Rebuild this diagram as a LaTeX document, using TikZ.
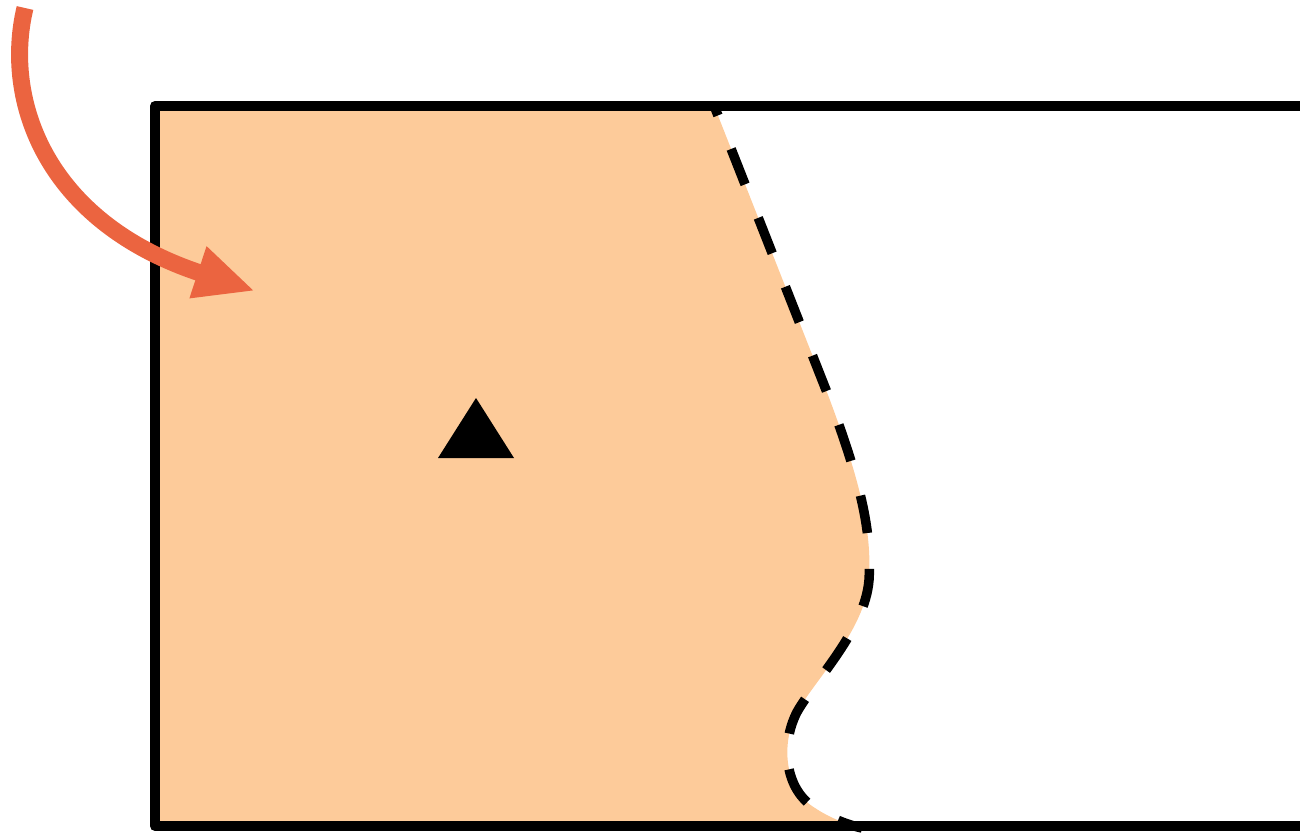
\documentclass[tikz,border=0pt]{standalone}
\usepackage{xcolor}
\usepackage{tikz}
\usetikzlibrary{arrows.meta,calc}
\definecolor{zona}{HTML}{FDCB9A}
\definecolor{freccia}{HTML}{EB6440}

\begin{document}
\begin{tikzpicture}[x=0.01cm,y=-0.01cm,line join=miter]
  \useasboundingbox (0,0) rectangle (1300,833);
  % regione riempita
  \fill[zona] (155,108)--(715,108)--(828,395)
    .. controls (860,480) and (872,530) .. (869,580)
    .. controls (865,630) and (815,680) .. (797,712)
    .. controls (780,745) and (785,790) .. (815,808)
    .. controls (830,818) and (848,825) .. (862,828)
    --(155,828)--cycle;
  % fronte tratteggiato
  \draw[black,line width=0.095cm,dash pattern=on 0.38cm off 0.36cm,dash phase=0.3cm]
    (715,108)--(828,395)
    .. controls (860,480) and (872,530) .. (869,580)
    .. controls (865,630) and (815,680) .. (797,712)
    .. controls (780,745) and (785,790) .. (815,808)
    .. controls (830,818) and (848,825) .. (862,828);
  % contenitore
  \draw[black,line width=0.1cm,line join=round] (1310,106)--(155,106)--(155,826)--(1310,826);
  \draw[black,line width=0.1cm] (1305,106)--(1305,826);
  % simbolo
  \fill[black] (476,398)--(514,458)--(438,458)--cycle;
  % freccia d'ingresso
  \coordinate (inizio) at (25,8);
  \coordinate (punta) at (255,291);
  \draw[freccia,line width=0.17cm,-{Triangle[length=0.6cm,width=0.5cm]}]
    (inizio) .. controls (3,100) and (45,222) .. (punta);
\end{tikzpicture}
\end{document}
